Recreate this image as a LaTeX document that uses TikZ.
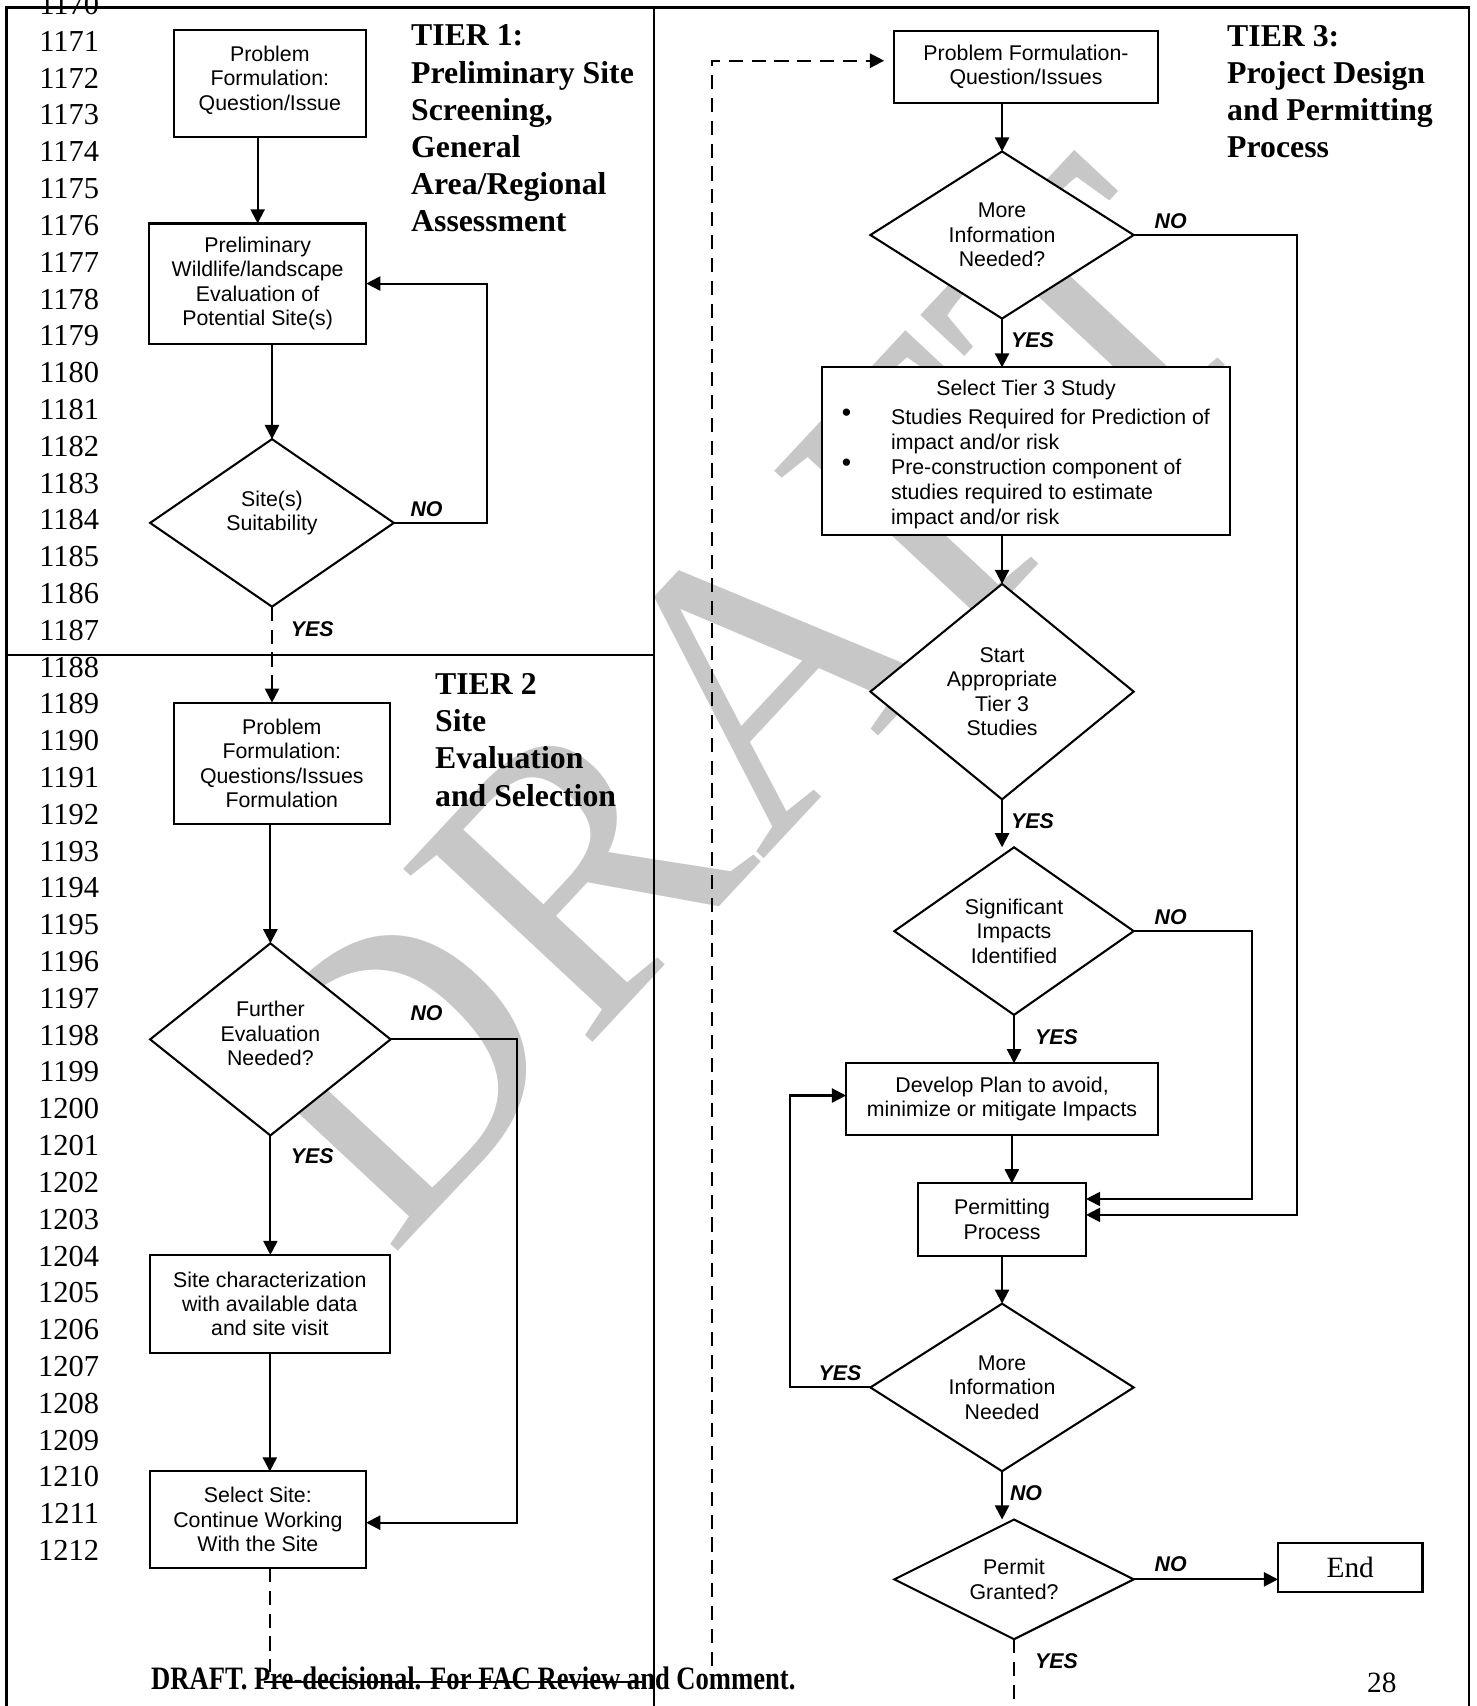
\documentclass[tikz,border=0pt]{standalone}
\usepackage{fontspec}
\usepackage{graphicx}
\setmainfont{Liberation Serif}
\newfontfamily\arialf{Liberation Sans}
\usetikzlibrary{shapes.geometric,arrows.meta,calc}
\newcommand\boxfnt{\arialf\fontsize{9.8pt}{11.25pt}\selectfont}
\newcommand\listfnt{\arialf\fontsize{9.8pt}{11.5pt}\selectfont}
\newcommand\ynfnt{\arialf\bfseries\itshape\fontsize{9.8pt}{11pt}\selectfont}
\newcommand\tierfnt{\bfseries\fontsize{14.6pt}{17.1pt}\selectfont}
\newcommand\numfnt{\fontsize{14pt}{16.9pt}\selectfont}
\begin{document}
\begin{tikzpicture}[x=0.5pt,y=-0.5pt,line width=0.95pt,
  box/.style={draw,fill=white,rectangle,inner sep=0pt,outer sep=0pt,align=center,font=\boxfnt},
  dia/.style={draw,fill=white,diamond,inner sep=0pt,outer sep=0pt,align=center,font=\boxfnt},
  arr/.style={-{Triangle[length=6.5pt,width=6.5pt]}},
  dsh/.style={dash pattern=on 6.5pt off 4pt},
  yn/.style={font=\ynfnt,inner sep=0pt},
  frm/.style={line width=1.1pt},
  tiert/.style={font=\tierfnt,align=left,anchor=north west,inner sep=0pt},
  lnum/.style={font=\numfnt,anchor=east,inner sep=0pt}]
\clip (0,0) rectangle (1357,1568);
% watermark
\node[text=black!22,font=\fontsize{180pt}{180pt}\selectfont,rotate=47,inner sep=0pt] (wm) at (675,645) {DRAFT};
% frame
\draw[frm] (6,1575) -- (6,7) -- (1350,7) -- (1350,1575);
\draw[frm] (601,7) -- (601,1575);
\draw[frm] (6,602) -- (601,602);
% line numbers
\foreach \n in {0,...,42} {\node[lnum] (ln\n) at (92,{4.2+33.83*\n}) {\number\numexpr1170+\n\relax};}
% titles
\node[tiert] (t1) at (377,22) {TIER 1:\\Preliminary Site\\Screening,\\General\\Area/Regional\\Assessment};
\node[tiert] (t2) at (399,618) {TIER 2\\Site\\Evaluation\\and Selection};
\node[tiert] (t3) at (1127,22) {TIER 3:\\Project Design\\and Permitting\\Process};
% tier 1
\node[box,minimum width=88pt,minimum height=49pt] (a1) at (248,77) {Problem\\Formulation:\\Question/Issue\\[-6pt]\mbox{}};
\node[box,minimum width=99.8pt,minimum height=55.2pt] (a2) at (236.8,260.6) {Preliminary\\Wildlife/landscape\\Evaluation of\\Potential Site(s)};
\node[dia,minimum width=112pt,minimum height=77pt,aspect=1.45] (d1) at (250,480.6) {Site(s)\\Suitability\\[0pt]\mbox{}};
\draw[arr] (a1.south -| a2.north) -- (a2.north);
\draw[arr] (a2.south -| d1.north) -- (d1.north);
\draw[arr] (d1.east) -- ++(86,0) |- (a2.east);
\node[yn] (n1) at (392,468) {NO};
\node[yn] (y1) at (287,578) {YES};
% tier 2
\node[box,minimum width=99.3pt,minimum height=55.6pt] (b1) at (259,701.4) {Problem\\Formulation:\\Questions/Issues\\Formulation};
\node[dia,minimum width=110.5pt,minimum height=88.3pt,aspect=1.25] (d2) at (248.5,955.3) {Further\\Evaluation\\Needed?\\[-6pt]\mbox{}};
\node[box,minimum width=110.5pt,minimum height=45pt] (b2) at (248,1198.4) {Site characterization\\with available data\\and site visit};
\node[box,minimum width=99.5pt,minimum height=44.3pt] (b3) at (237,1396.7) {Select Site:\\Continue Working\\With the Site};
\draw[dsh,arr] (d1.south) -- (d1.south |- b1.north);
\draw[arr] (b1.south -| d2.north) -- (d2.north);
\draw[arr] (d2.east) -- ++(116.5,0) |- ([yshift=-1.4pt]b3.east);
\node[yn] (n2) at (392,931) {NO};
\node[yn] (y2) at (287,1063) {YES};
\draw[arr] (d2.south) -- (d2.south |- b2.north);
\draw[arr] (b2.south) -- (b2.south |- b3.north);
\coordinate (t2e) at (248,1537);
\draw[dsh] (b2.south |- b3.south) -- (t2e);
% tier 3
\node[box,minimum width=121.4pt,minimum height=33.1pt] (c1) at (943,61.4) {Problem Formulation-\\Question/Issues};
\node[dia,minimum width=121pt,minimum height=76.8pt,aspect=1.58] (d3) at (921,216) {More\\Information\\Needed?};
\node[box,minimum width=187.5pt,minimum height=77.2pt] (c2) at (943,414.9) {};
\node[font=\boxfnt,inner sep=0pt] (c2title) at (943,358) {Select Tier 3 Study};
\node[font=\boxfnt,inner sep=0pt] (c2b1) at (778,382) {\scalebox{1.25}{\textbullet}};
\node[font=\boxfnt,inner sep=0pt] (c2b2) at (778,428) {\scalebox{1.25}{\textbullet}};
\node[font=\listfnt,align=left,anchor=north west,inner sep=0pt] (c2list) at (818,375) {Studies Required for Prediction of\\impact and/or risk\\Pre-construction component of\\studies required to estimate\\impact and/or risk};
\node[dia,minimum width=121pt,minimum height=99pt,aspect=1.22] (d4) at (921,635.7) {Start\\Appropriate\\Tier 3\\Studies};
\node[dia,minimum width=110pt,minimum height=77pt,aspect=1.43] (d5) at (932,855.8) {Significant\\Impacts\\Identified};
\node[box,minimum width=143.4pt,minimum height=33pt] (c3) at (921,1010.3) {Develop Plan to avoid,\\minimize or mitigate Impacts};
\node[box,minimum width=77.2pt,minimum height=33.2pt] (c4) at (921,1120.8) {Permitting\\Process};
\node[dia,minimum width=121pt,minimum height=77pt,aspect=1.57] (d6) at (921,1275.2) {More\\Information\\Needed};
\node[dia,minimum width=110pt,minimum height=55pt,aspect=2] (d7) at (932,1451.6) {Permit\\Granted?};
\node[box,font=\fontsize{13.5pt}{15pt}\selectfont,minimum width=66.4pt,minimum height=22.5pt] (endb) at (1241,1440.7) {End};
\coordinate (t3b) at (654,1552);
\coordinate (t3t) at (654,55.8);
\draw[dsh,arr,shorten >=4.5pt] (t3b) -- (t3t) -- (t3t -| c1.west);
\draw[arr] (c1.south -| d3.north) -- (d3.north);
\draw[arr] (d3.east) -- ++(150,0) |- ([yshift=2.1pt]c4.east);
\node[yn] (n3) at (1076,203) {NO};
\node[yn] (y3) at (949,313) {YES};
\draw[arr] (d3.south) -- (d3.south |- c2.north);
\draw[arr] (c2.south -| d4.north) -- (d4.north);
\node[yn] (y4) at (949,755) {YES};
\draw[arr] (d4.south) -- (d4.south |- d5.north);
\draw[arr] (d5.east) -- ++(109,0) |- ([yshift=9.4pt]c4.east);
\node[yn] (n5) at (1076,843) {NO};
\node[yn] (y5) at (971,953) {YES};
\draw[arr] (d5.south) -- (d5.south |- c3.north);
\draw[arr] ([xshift=4.5pt]c3.south) -- ([xshift=4.5pt]c4.north);
\draw[arr] (c4.south) -- (d6.north);
\draw[arr] (d6.west) -- ++(-74,0) |- ([yshift=1.7pt]c3.west);
\node[yn] (y6) at (772,1262) {YES};
\node[yn] (n6) at (943,1372) {NO};
\draw[arr] (d6.south) -- (d6.south |- d7.north);
\draw[arr] (d7.east) -- (d7.east -| endb.west);
\node[yn] (n7) at (1076,1438) {NO};
\node[yn] (y7) at (971,1527) {YES};
\coordinate (t3e) at (932,1575);
\draw[dsh] (d7.south) -- (t3e);
% footer
\node[font=\bfseries\fontsize{15pt}{17pt}\selectfont,anchor=west,inner sep=0pt] (foot) at (138,1543) {\scalebox{0.815}[1]{DRAFT. Pre-decisional. For FAC Review and Comment.}};
\draw[line width=0.6pt] (243,1546) -- (590,1546);
\node[font=\fontsize{13.5pt}{16pt}\selectfont,inner sep=0pt] (pg) at (1270,1547) {28};
\end{tikzpicture}
\end{document}
